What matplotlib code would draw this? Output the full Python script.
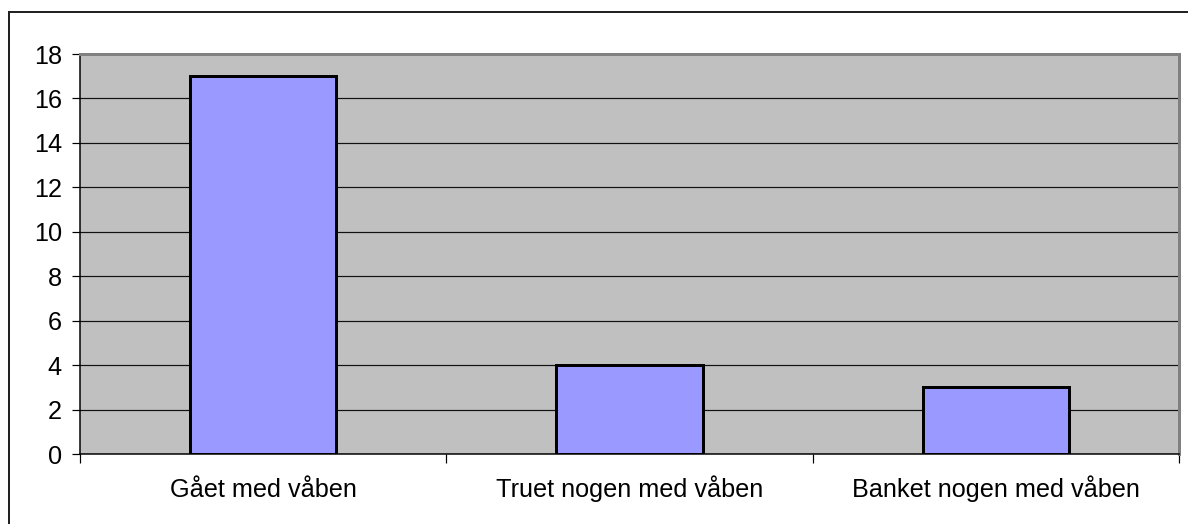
import matplotlib
matplotlib.use('Agg')
import matplotlib.pyplot as plt
from matplotlib.patches import Rectangle
from matplotlib.transforms import blended_transform_factory

categories = ['Gået med våben', 'Truet nogen med våben', 'Banket nogen med våben']
values = [17, 4, 3]
yticks = [0, 2, 4, 6, 8, 10, 12, 14, 16, 18]

plt.rcParams['font.family'] = ['Liberation Sans', 'DejaVu Sans']
px = 0.72  # points per pixel at dpi 100

fig = plt.figure(figsize=(11.88, 5.24), dpi=100)
ax = fig.add_axes([80 / 1188, 1 - 454 / 524, 1099 / 1188, 400 / 524])

# outer chart border (right/bottom fall outside the image)
fig.patches.append(Rectangle((9 / 1188, -0.1), 1.2, 1 - 12 / 524 + 0.1,
                             transform=fig.transFigure, fill=False,
                             edgecolor='#222222', linewidth=2 * px))

ax.set_facecolor('#c0c0c0')
x = list(range(len(categories)))
ax.bar(x, values, width=0.4, color='#9999ff', edgecolor='black',
       linewidth=3 * px, zorder=3)

ax.set_xlim(-0.5, len(categories) - 0.5)
ax.set_ylim(0, 18)
ax.set_yticks(yticks)
ax.set_yticklabels([str(t) for t in yticks], fontsize=18.2)
ax.yaxis.grid(True, color='#111111', linewidth=1.2 * px, zorder=1)
ax.set_axisbelow(True)

ax.set_xticks([i - 0.5 for i in range(len(categories) + 1)])
ax.set_xticklabels([])
ax.tick_params(axis='x', direction='out', length=9 * px, width=1.2 * px)
ax.tick_params(axis='y', direction='out', length=8 * px, width=1.2 * px,
               pad=10 * px)

trans = blended_transform_factory(ax.transData, ax.transAxes)
for i, name in enumerate(categories):
    ax.text(i, -(497 - 454) / 400, name, transform=trans, ha='center',
            va='baseline', fontsize=18.2)

ax.spines['top'].set_color('#808080')
ax.spines['right'].set_color('#808080')
ax.spines['top'].set_linewidth(3 * px)
ax.spines['right'].set_linewidth(3 * px)
ax.spines['left'].set_color('black')
ax.spines['bottom'].set_color('black')
ax.spines['left'].set_linewidth(1.5 * px)
ax.spines['bottom'].set_linewidth(1.5 * px)

fig.savefig('out.png', dpi=100)
